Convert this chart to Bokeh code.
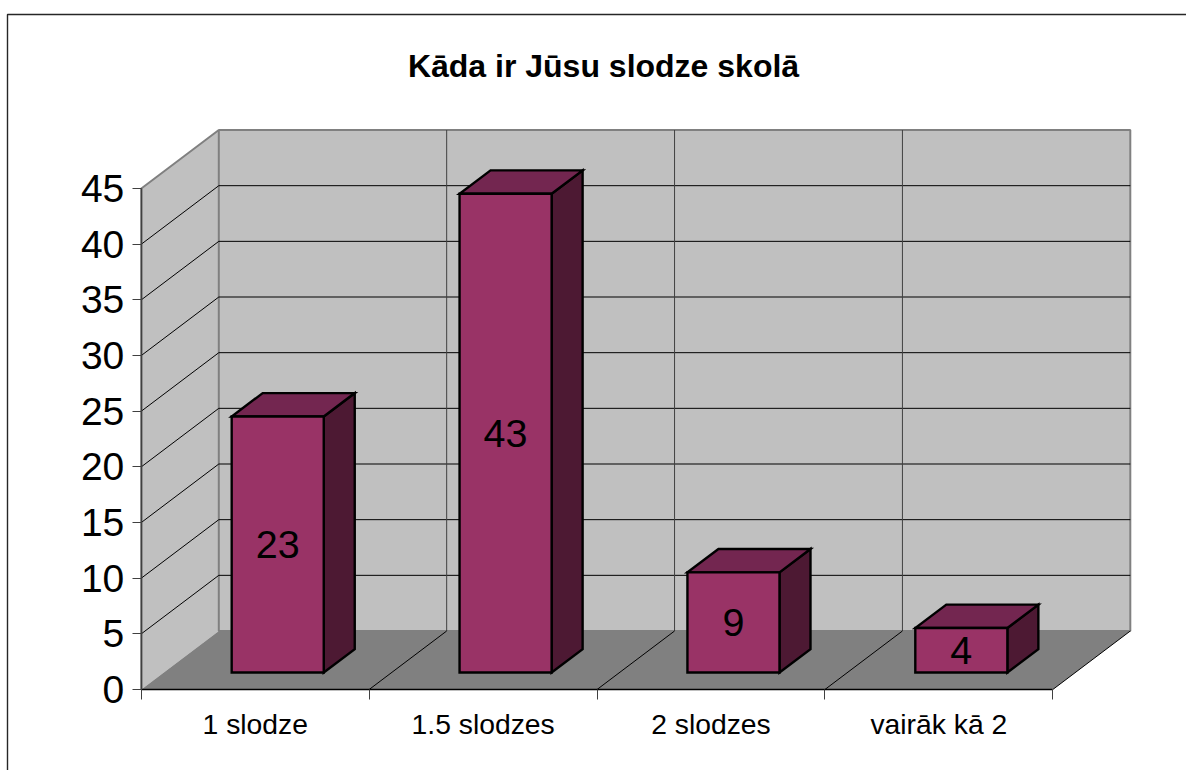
from bokeh.plotting import figure
from bokeh.models import LinearAxis, FixedTicker, Range1d, ColumnDataSource
from bokeh.core.properties import value
from bokeh.embed import file_html
from bokeh.resources import INLINE

# ---- data ----
title = "Kāda ir Jūsu slodze skolā"
categories = ["1 slodze", "1.5 slodzes", "2 slodzes", "vairāk kā 2"]
values = [23, 43, 9, 4]
y_ticks = [0, 5, 10, 15, 20, 25, 30, 35, 40, 45]

# ---- layout / projection ----
FONT = "Liberation Sans"
W, H = 1186, 770
X0, Y0 = 0, 0                     # page position of the figure
PX_X, PX_Y = 227.875, 11.133      # pixels per category / per value
OX, OY = 140.8, 689.0             # page position of data origin
DX, DY = 77.5 / PX_X, 58.5 / PX_Y # depth of the 3-D box in data units
Z0, Z1 = 0.29, 0.69               # bar depth span
BAR_W = 0.404
n = len(categories)
ymax = y_ticks[-1]

def pr(x, y, z=0.0):
    return x + z * DX, y + z * DY

def poly(pts):
    return [p[0] for p in pts], [p[1] for p in pts]

p = figure(width=W, height=H, output_backend="svg", toolbar_location=None,
           x_range=Range1d((X0 - OX) / PX_X, (X0 + W - OX) / PX_X),
           y_range=Range1d((OY - Y0 - H) / PX_Y, (OY - Y0) / PX_Y),
           min_border=0, x_axis_type=None, y_axis_type=None, outline_line_color=None)
p.xgrid.visible = False
p.ygrid.visible = False

# outer chart border
bx = (7 - OX) / PX_X
by = (OY - 14) / PX_Y
p.line([bx, bx, (X0 + W + 20 - OX) / PX_X], [(OY - Y0 - H - 20) / PX_Y, by, by],
       line_color="#262626", line_width=1.4)

# walls
xs, ys = poly([pr(0, 0, 0), pr(0, ymax, 0), pr(0, ymax, 1), pr(0, 0, 1)])
p.patch(xs, ys, fill_color="#c0c0c0", line_color=None)
xs, ys = poly([pr(0, 0, 1), pr(0, ymax, 1), pr(n, ymax, 1), pr(n, 0, 1)])
p.patch(xs, ys, fill_color="#c0c0c0", line_color="#808080", line_width=2)
xs, ys = poly([pr(0, 0, 0), pr(0, ymax, 0), pr(0, ymax, 1)])
p.line(xs, ys, line_color="#808080", line_width=2)

# gridlines
for v in y_ticks[1:-1]:
    xs, ys = poly([pr(0, v, 0), pr(0, v, 1), pr(n, v, 1)])
    p.line(xs, ys, line_color="#000000", line_width=1)
for i in range(1, n):
    xs, ys = poly([pr(i, 0, 1), pr(i, ymax, 1)])
    p.line(xs, ys, line_color="#404040", line_width=1)

# floor
xs, ys = poly([pr(0, 0, 0), pr(n, 0, 0), pr(n, 0, 1), pr(0, 0, 1)])
p.patch(xs, ys, fill_color="#808080", line_color=None)
for i in range(1, n + 1):
    xs, ys = poly([pr(i, 0, 0), pr(i, 0, 1)])
    p.line(xs, ys, line_color="#000000", line_width=1)

# bars
front, top, side = ([], []), ([], []), ([], [])
for i, v in enumerate(values):
    l, r = i + 0.5 - BAR_W / 2, i + 0.5 + BAR_W / 2
    for store, pts in (
        (front, [pr(l, 0, Z0), pr(r, 0, Z0), pr(r, v, Z0), pr(l, v, Z0)]),
        (top, [pr(l, v, Z0), pr(r, v, Z0), pr(r, v, Z1), pr(l, v, Z1)]),
        (side, [pr(r, 0, Z0), pr(r, 0, Z1), pr(r, v, Z1), pr(r, v, Z0)]),
    ):
        a, b = poly(pts)
        store[0].append(a)
        store[1].append(b)
for store, col in ((side, "#4d1933"), (top, "#732650"), (front, "#993366")):
    p.patches(store[0], store[1], fill_color=col, line_color="#000000", line_width=2.4,
              line_join="miter")

# data labels
lab = ColumnDataSource(dict(
    x=[pr(i + 0.5, 0, Z0)[0] for i in range(n)],
    y=[pr(0, v / 2, Z0)[1] for v in values],
    t=[str(v) for v in values]))
p.text("x", "y", text="t", source=lab, text_font=value(FONT), text_font_size="39.5px",
       text_align="center", text_baseline="middle", text_color="#000000")

# title
p.text([(603 - OX) / PX_X], [(OY - 65) / PX_Y], text=[title], text_font=value(FONT),
       text_font_size="32px", text_font_style="bold", text_align="center",
       text_baseline="middle", text_color="#000000")

# value axis
ya = LinearAxis(ticker=FixedTicker(ticks=y_ticks), bounds=(0, ymax), fixed_location=0)
ya.axis_line_color = "#404040"
ya.axis_line_width = 1.5
ya.major_tick_line_color = "#404040"
ya.major_tick_out = 9
ya.major_tick_in = 0
ya.minor_tick_line_color = None
ya.major_label_text_font = FONT
ya.major_label_text_font_size = "39px"
ya.major_label_text_color = "#000000"
ya.major_label_standoff = 8
p.add_layout(ya, "left")

# category axis: ticks at the boundaries
xa = LinearAxis(ticker=FixedTicker(ticks=list(range(n + 1))), bounds=(0, n), fixed_location=0)
xa.axis_line_color = "#000000"
xa.axis_line_width = 1.5
xa.major_tick_line_color = "#404040"
xa.major_tick_out = 10
xa.major_tick_in = 0
xa.minor_tick_line_color = None
xa.major_label_text_color = None
xa.major_label_text_font_size = "1px"
p.add_layout(xa, "below")

# category axis: labels at the centres
xb = LinearAxis(ticker=FixedTicker(ticks=[i + 0.5 for i in range(n)]), fixed_location=0,
                major_label_overrides={i + 0.5: c for i, c in enumerate(categories)})
xb.axis_line_color = None
xb.major_tick_line_color = None
xb.minor_tick_line_color = None
xb.major_label_text_font = FONT
xb.major_label_text_font_size = "28.3px"
xb.major_label_text_color = "#000000"
xb.major_label_standoff = 12
p.add_layout(xb, "below")

open("out.html", "w").write(file_html(p, INLINE))
